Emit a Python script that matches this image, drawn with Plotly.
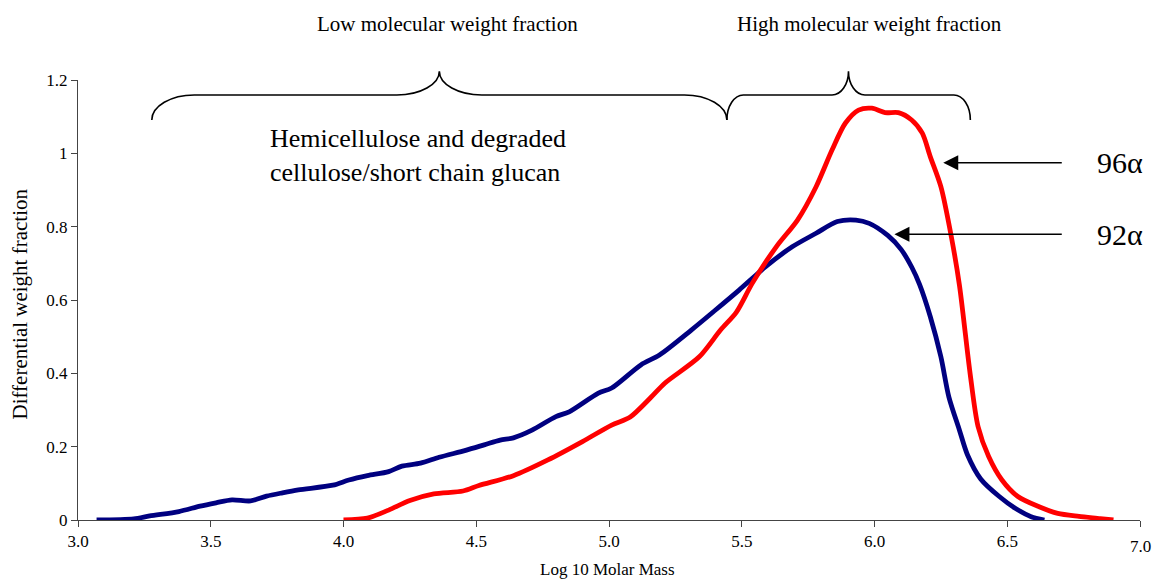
import plotly.graph_objects as go

# ---- data ----
x_92 = [3.07, 3.21, 3.27, 3.38, 3.46, 3.52, 3.58, 3.65, 3.71, 3.77, 3.83, 3.96, 4.02, 4.09,
        4.17, 4.22, 4.29, 4.36, 4.46, 4.53, 4.59, 4.64, 4.71, 4.80, 4.85, 4.96, 5.01, 5.12,
        5.19, 5.31, 5.40, 5.49, 5.59, 5.69, 5.78, 5.86, 5.93, 5.98, 6.05, 6.10, 6.14, 6.17, 6.21,
        6.25, 6.28, 6.32, 6.35, 6.40, 6.47, 6.53, 6.59, 6.64]
y_92 = [0.0, 0.003, 0.011, 0.023, 0.038, 0.047, 0.055, 0.052, 0.065, 0.074, 0.082, 0.095, 0.109, 0.121,
        0.132, 0.147, 0.155, 0.171, 0.19, 0.205, 0.218, 0.224, 0.245, 0.282, 0.295, 0.346, 0.36, 0.423,
        0.45, 0.518, 0.572, 0.627, 0.691, 0.745, 0.782, 0.814, 0.818, 0.809, 0.776, 0.738, 0.69, 0.642, 0.555,
        0.445, 0.336, 0.245, 0.178, 0.112, 0.064, 0.032, 0.009, 0.0]

x_96 = [4.00, 4.09, 4.17, 4.25, 4.34, 4.45, 4.51, 4.64, 4.77, 4.90, 5.01, 5.08, 5.16, 5.21,
        5.34, 5.42, 5.48, 5.54, 5.63, 5.71, 5.78, 5.84, 5.89, 5.94, 5.99, 6.04, 6.09, 6.14,
        6.18, 6.21, 6.25, 6.29, 6.32, 6.36, 6.39, 6.43, 6.48, 6.54, 6.62, 6.69, 6.77, 6.85, 6.90]
y_96 = [0.0, 0.005, 0.027, 0.053, 0.071, 0.079, 0.094, 0.121, 0.164, 0.214, 0.259, 0.281, 0.336, 0.373,
        0.445, 0.518, 0.567, 0.646, 0.745, 0.818, 0.909, 1.009, 1.082, 1.118, 1.123, 1.111, 1.111, 1.091,
        1.055, 0.991, 0.909, 0.77, 0.64, 0.40, 0.255, 0.173, 0.109, 0.064, 0.036, 0.018, 0.01, 0.004, 0.0]

x_ticks = [3.0, 3.5, 4.0, 4.5, 5.0, 5.5, 6.0, 6.5, 7.0]
x_ticklabels = ["3.0", "3.5", "4.0", "4.5", "5.0", "5.5", "6.0", "6.5", "7.0"]
y_ticks = [0, 0.2, 0.4, 0.6, 0.8, 1.0, 1.2]

X_RANGE = [3.0, 7.0]
Y_RANGE = [0.0, 1.2]

FONT = "Liberation Serif, Times New Roman, serif"

fig = go.Figure()
fig.add_trace(go.Scatter(x=x_92, y=y_92, mode="lines", name="92α",
                         line=dict(color="#000080", width=4.8, shape="spline", smoothing=0.8)))
fig.add_trace(go.Scatter(x=x_96, y=y_96, mode="lines", name="96α",
                         line=dict(color="#FF0000", width=4.8, shape="spline", smoothing=0.8)))


def px(xv):
    return (xv - X_RANGE[0]) / (X_RANGE[1] - X_RANGE[0])


def brace_path(x0, xm, x1, r, yb=0.909, yh=0.966, yp=1.020):
    k = 0.5523
    X0, Xm, X1, R = px(x0), px(xm), px(x1), r / (X_RANGE[1] - X_RANGE[0])
    p = f"M {X0},{yb} "
    p += f"C {X0},{yb + k*(yh-yb)} {X0 + R*(1-k)},{yh} {X0 + R},{yh} "
    p += f"L {Xm - R},{yh} "
    p += f"C {Xm - R + k*R},{yh} {Xm},{yp - k*(yp-yh)} {Xm},{yp} "
    p += f"C {Xm},{yp - k*(yp-yh)} {Xm + R - k*R},{yh} {Xm + R},{yh} "
    p += f"L {X1 - R},{yh} "
    p += f"C {X1 - R + k*R},{yh} {X1},{yb + k*(yh-yb)} {X1},{yb}"
    return p


shapes = [
    dict(type="path", xref="paper", yref="paper", path=brace_path(3.278, 4.361, 5.444, 0.16),
         line=dict(color="black", width=1.6)),
    dict(type="path", xref="paper", yref="paper", path=brace_path(5.444, 5.902, 6.361, 0.062),
         line=dict(color="black", width=1.6)),
]

annotations = [
    dict(text="Low molecular weight fraction", x=4.391, y=1.127, xref="x", yref="paper",
         xanchor="center", yanchor="middle",
         showarrow=False, font=dict(family=FONT, size=21, color="black")),
    dict(text="High molecular weight fraction", x=5.98, y=1.127, xref="x", yref="paper",
         xanchor="center", yanchor="middle",
         showarrow=False, font=dict(family=FONT, size=21, color="black")),
    dict(text="Hemicellulose and degraded<br>cellulose/short chain glucan", x=3.714, y=0.993,
         xref="x", yref="y", xanchor="left", yanchor="middle", align="left", showarrow=False,
         font=dict(family=FONT, size=26, color="black")),
    dict(text="", x=6.259, y=0.974, xref="x", yref="y", ax=6.711, ay=0.974, axref="x", ayref="y",
         showarrow=True, arrowhead=2, arrowsize=2.0, arrowwidth=1.5, arrowcolor="black"),
    dict(text="", x=6.075, y=0.779, xref="x", yref="y", ax=6.711, ay=0.779, axref="x", ayref="y",
         showarrow=True, arrowhead=2, arrowsize=2.0, arrowwidth=1.5, arrowcolor="black"),
    dict(text="96α", x=6.925, y=0.974, xref="x", yref="y", xanchor="center", yanchor="middle",
         showarrow=False, font=dict(family=FONT, size=30, color="black")),
    dict(text="92α", x=6.925, y=0.779, xref="x", yref="y", xanchor="center", yanchor="middle",
         showarrow=False, font=dict(family=FONT, size=30, color="black")),
    dict(text="Differential weight fraction", x=-0.0545, y=0.49, xref="paper", yref="paper",
         xanchor="center", yanchor="middle",
         textangle=-90, showarrow=False, font=dict(family=FONT, size=21, color="black")),
    dict(text="Log 10 Molar Mass", x=0.499, y=-0.113, xref="paper", yref="paper",
         xanchor="center", yanchor="middle",
         showarrow=False, font=dict(family=FONT, size=17, color="black")),
    # last x tick label, drawn as text so it may sit at the very right edge like the reference
    dict(text=x_ticklabels[-1], x=x_ticks[-1], y=-0.06, xref="x", yref="paper",
         xanchor="center", yanchor="middle",
         showarrow=False, font=dict(family=FONT, size=17, color="black")),
]

fig.update_layout(
    width=1152, height=580,
    margin=dict(l=78, r=12, t=80, b=60),
    paper_bgcolor="white", plot_bgcolor="white",
    showlegend=False,
    font=dict(family=FONT, color="black"),
    shapes=shapes,
    annotations=annotations,
    xaxis=dict(range=X_RANGE, tickvals=x_ticks, ticktext=x_ticklabels[:-1] + [""],
               showgrid=False, zeroline=False,
               showline=True, linecolor="#444", linewidth=1, ticks="outside", ticklen=6,
               tickcolor="#444",
               tickfont=dict(family=FONT, size=17, color="black")),
    yaxis=dict(range=Y_RANGE, tickvals=y_ticks, showgrid=False, zeroline=False,
               showline=True, linecolor="#444", linewidth=1, ticks="outside", ticklen=6,
               tickcolor="#444", tickfont=dict(family=FONT, size=17, color="black")),
)

fig.write_html("out.html")
